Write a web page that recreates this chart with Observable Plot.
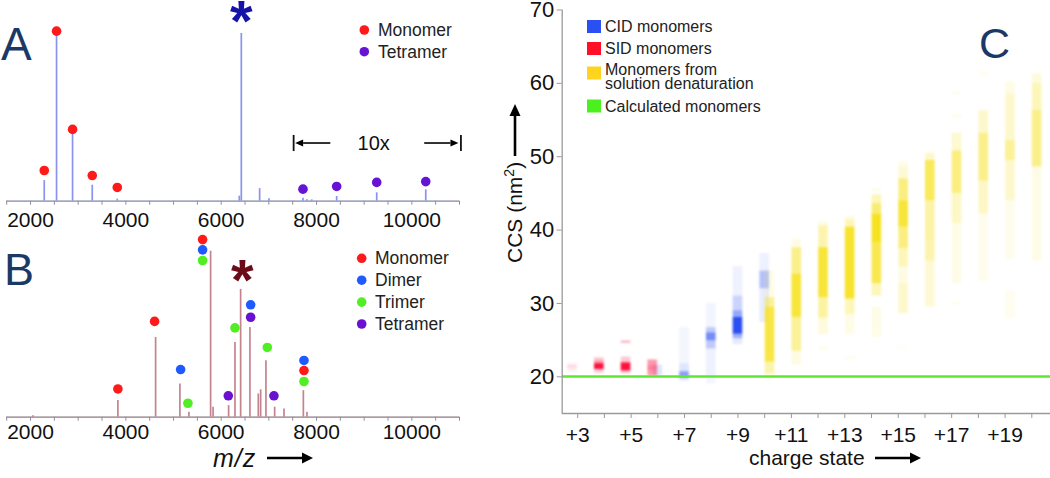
<!DOCTYPE html>
<html><head><meta charset="utf-8">
<script src="https://cdn.jsdelivr.net/npm/d3@7"></script>
<script src="https://cdn.jsdelivr.net/npm/@observablehq/plot@0.6"></script>
<style>
html,body{margin:0;padding:0;background:#fff;}
#wrap{position:relative;width:1050px;height:478px;overflow:hidden;}
#wrap > svg{position:absolute;}
</style></head><body><div id="wrap"></div>
<script>
const FONT = "'Liberation Sans', Arial, Helvetica, sans-serif";

// ---------------- Panel A : CID spectrum ----------------
const aPeakMz  = [2288, 2546, 2882, 3295, 3820, 6380, 6422, 6807, 7002, 7716, 7800, 7900, 8423, 9263, 10292];
const aPeakInt = [12.3, 100, 40, 9.5, 1.2, 3, 100, 7.5, 1.5, 1.8, 0.8, 0.8, 2.8, 5, 6.8];
const aMonomerMz  = [2288, 2546, 2882, 3295, 3820];
const aMonomerY   = [18.3, 101.4, 42.8, 15.3, 8.2];
const aTetramerMz = [7716, 8423, 9263, 10292];
const aTetramerY  = [7.2, 8.8, 11.2, 11.7];
const aStar = [{mz: 6422, y: 100}];
const aZoom = {from: 7520, to: 11030, textAt: 9200, arrowL: 8300, arrowR: 10270, y: 34.4, barLo: 29.6, barHi: 39.2};
const aLegendNames  = ["Monomer", "Tetramer"];
const aLegendColors = ["#ff1a1a", "#6414d2"];

// ---------------- Panel B : SID spectrum ----------------
const bPeakMz  = [2050, 3833, 4624, 5134, 5323, 5778, 5830, 6156, 6289, 6408, 6603, 6779, 6828, 6939, 7122, 7318, 7724, 7800];
const bPeakInt = [0.8, 10, 48, 20, 3, 100, 6, 7, 45, 77, 54, 14, 16.5, 34, 6, 5, 16, 3];
const bMonomerMz  = [3833, 4603, 5610, 7737];
const bMonomerY   = [17, 57.7, 107, 28.1];
const bDimerMz    = [5149, 5610, 6618, 7737];
const bDimerY     = [28.7, 100.8, 67.7, 34.2];
const bTrimerMz   = [5302, 5610, 6289, 6968, 7737];
const bTrimerY    = [8.4, 94.4, 53.8, 42, 21.5];
const bTetramerMz = [6149, 6618, 7107];
const bTetramerY  = [12.9, 60.2, 12.9];
const bStar = [{mz: 6444, y: 77}];
const bLegendNames  = ["Monomer", "Dimer", "Trimer", "Tetramer"];
const bLegendColors = ["#ff1a1a", "#1f5aff", "#50ee22", "#6a10d0"];

// ---------------- Panel C : CCS vs charge state ----------------
// [charge, CCS low, CCS high, relative intensity]
const cidBands = [
  [6, 20.1, 21.6, 0.15],
  [7, 21.8, 26.7, 0.05], [7, 20.7, 21.8, 0.15], [7, 19.8, 20.7, 0.55], [7, 19.4, 19.8, 0.12],
  [8, 26.7, 30.0, 0.06], [8, 26.0, 26.7, 0.3], [8, 24.9, 26.0, 0.65], [8, 23.8, 24.9, 0.3], [8, 20.0, 23.8, 0.08], [8, 19.0, 20.0, 0.05],
  [9, 31.0, 35.0, 0.08], [9, 29.0, 31.0, 0.25], [9, 28.1, 29.0, 0.5], [9, 25.8, 28.1, 1.0], [9, 25.2, 25.8, 0.45], [9, 24.4, 25.2, 0.12],
  [10, 34.4, 36.8, 0.08], [10, 32.0, 34.4, 0.35], [10, 27.4, 32.0, 0.1]
];
const sidBands = [
  [3, 20.6, 21.8, 0.07], [3, 21.2, 21.5, 0.12],
  [4, 20.5, 22.6, 0.22], [4, 21.0, 21.8, 0.95], [4, 21.8, 22.2, 0.25],
  [5, 20.4, 22.7, 0.22], [5, 20.8, 21.9, 0.95], [5, 24.6, 24.85, 0.4],
  [6, 20.1, 22.3, 0.42], [6, 20.8, 21.5, 0.15]
];
const solBands = [
  [10, 30.8, 34.5, 0.1], [10, 29.5, 30.8, 0.45], [10, 22.0, 29.5, 0.8], [10, 20.4, 22.0, 0.35], [10, 19.6, 20.4, 0.1],
  [11, 37.6, 38.8, 0.1], [11, 34.0, 37.6, 0.5], [11, 28.1, 34.0, 0.85], [11, 23.5, 28.1, 0.45], [11, 21.6, 23.5, 0.12],
  [12, 40.6, 41.2, 0.1], [12, 37.6, 40.6, 0.35], [12, 30.8, 37.6, 0.85], [12, 28.0, 30.8, 0.4], [12, 25.8, 28.0, 0.15], [12, 23.6, 24.0, 0.08],
  [13, 41.4, 41.9, 0.1], [13, 40.4, 41.4, 0.3], [13, 30.6, 40.4, 0.9], [13, 28.5, 30.6, 0.3], [13, 25.8, 28.5, 0.1], [13, 22.4, 22.8, 0.08],
  [14, 45.2, 45.6, 0.1], [14, 43.6, 44.8, 0.3], [14, 42.2, 43.6, 0.6], [14, 38.3, 42.2, 0.95], [14, 32.7, 38.3, 0.75], [14, 31.0, 32.7, 0.3], [14, 25.4, 29.5, 0.1],
  [15, 48.6, 49.3, 0.1], [15, 47.0, 48.6, 0.18], [15, 44.0, 47.0, 0.55], [15, 40.4, 44.0, 0.85], [15, 37.5, 40.4, 0.55], [15, 35.0, 37.5, 0.3], [15, 32.7, 35.0, 0.12], [15, 28.6, 32.7, 0.22], [15, 23.8, 24.2, 0.06],
  [16, 49.5, 50.5, 0.22], [16, 44.0, 49.5, 0.7], [16, 38.6, 44.0, 0.38], [16, 35.8, 38.6, 0.35], [16, 29.5, 35.8, 0.18],
  [17, 58.4, 58.9, 0.06], [17, 55.2, 55.7, 0.08], [17, 50.8, 53.2, 0.2], [17, 45.0, 50.8, 0.55], [17, 40.9, 45.0, 0.25], [17, 32.7, 40.9, 0.1], [17, 29.8, 30.2, 0.08],
  [18, 61.0, 61.6, 0.06], [18, 53.2, 56.3, 0.22], [18, 46.7, 53.2, 0.5], [18, 42.2, 46.7, 0.25], [18, 33.0, 42.2, 0.08],
  [19, 58.6, 60.2, 0.1], [19, 52.2, 58.6, 0.22], [19, 49.5, 52.2, 0.45], [19, 44.0, 49.5, 0.22], [19, 36.0, 44.0, 0.08], [19, 28.0, 31.7, 0.07],
  [20, 60.0, 61.3, 0.15], [20, 56.3, 60.0, 0.3], [20, 48.6, 56.3, 0.5], [20, 35.8, 48.6, 0.1]
];
const calcCCS = 20.05;
const cChargeTicks = d3.range(3, 21);
const cCcsTicks = [20, 30, 40, 50, 60, 70];
const cLegendNames  = [["CID monomers"], ["SID monomers"], ["Monomers from", "solution denaturation"], ["Calculated monomers"]];
const cLegendColors = ["#2a4ff2", "#ff1028", "#ffd41e", "#4cf01e"];

// ================= drawing =================
const wrap = document.getElementById("wrap");
const mzTicks = d3.range(1500, 11001, 500);
const mzFormat = d => d % 2000 === 0 ? String(d) : "";
const rows = (xs, ys) => xs.map((x, i) => ({mz: x, y: ys[i]}));

function spectrum({top, height, mT, mB, peaksMz, peaksInt, color, baseColor, dots, star, starColor, starDy, extra, labelPad}) {
  const p = Plot.plot({
    width: 480, height,
    marginLeft: 6.2, marginRight: 21, marginTop: mT, marginBottom: mB,
    x: {domain: [1500, 11000], label: null},
    y: {domain: [0, 100], axis: null, label: null},
    style: {fontFamily: FONT, fontSize: "21px", color: "#111", background: "transparent", overflow: "visible"},
    marks: [
      Plot.ruleY([0], {stroke: "#8d8d9a", strokeWidth: 1.3}),
      Plot.axisX({ticks: mzTicks, tickFormat: mzFormat, tickSize: 4, tickPadding: labelPad, stroke: "#8d8d9a", fontSize: 21, fill: "#111"}),
      Plot.ruleY([0], {stroke: baseColor, strokeWidth: 1, strokeOpacity: 0.7}),
      Plot.ruleX(peaksMz.map((m, i) => ({mz: m, h: peaksInt[i]})), {x: "mz", y1: 0, y2: "h", stroke: color, strokeWidth: 1.7}),
      ...dots.map(([xs, ys, c]) => Plot.dot(rows(xs, ys), {x: "mz", y: "y", r: 4.8, fill: c, stroke: null})),
      Plot.text(star, {x: "mz", y: "y", text: () => "*", fontSize: 58, fontWeight: "bold", fill: starColor, dy: starDy}),
      ...(extra || [])
    ]
  });
  p.style.left = "0px"; p.style.top = top + "px";
  wrap.appendChild(p);
  return p;
}

// Panel A (y(0)=200.7, y(100)=33)
const plotA = spectrum({
  top: 0, height: 235, mT: 33, mB: 34.3, labelPad: 6.5,
  peaksMz: aPeakMz, peaksInt: aPeakInt, color: "#8a94ee", baseColor: "#9aa2e6",
  dots: [[aMonomerMz, aMonomerY, aLegendColors[0]], [aTetramerMz, aTetramerY, aLegendColors[1]]],
  star: aStar, starColor: "#1414a8", starDy: -11,
  extra: [
    Plot.ruleX([aZoom.from, aZoom.to], {y1: aZoom.barLo, y2: aZoom.barHi, stroke: "#111", strokeWidth: 1.8}),
    Plot.text([{x: aZoom.textAt, y: aZoom.y}], {x: "x", y: "y", text: () => "10x", fontSize: 20, fill: "#111"})
  ]
});

// Panel B (y(0)=416.7, y(100)=250.7)
spectrum({
  top: 225, height: 253, mT: 25.7, mB: 61.3, labelPad: 3,
  peaksMz: bPeakMz, peaksInt: bPeakInt, color: "#c4848f", baseColor: "#b98a92",
  dots: [[bMonomerMz, bMonomerY, bLegendColors[0]], [bDimerMz, bDimerY, bLegendColors[1]],
         [bTrimerMz, bTrimerY, bLegendColors[2]], [bTetramerMz, bTetramerY, bLegendColors[3]]],
  star: bStar, starColor: "#6b0c18", starDy: -8
});

// Panel C
const band = (arr, off) => arr.map(([z, lo, hi, a]) => ({z, x1: z + off - 0.18, x2: z + off + 0.18, lo, hi, a}));
const cPlot = Plot.plot({
  width: 570, height: 478,
  marginLeft: 81.7, marginRight: 0, marginTop: 9.5, marginBottom: 65,
  x: {domain: [2.42, 20.7], label: null},
  y: {domain: [15, 70], label: null},
  opacity: {domain: [0, 1], range: [0, 1]},
  style: {fontFamily: FONT, fontSize: "21px", color: "#111", background: "transparent", overflow: "visible"},
  marks: [
    Plot.rect(band(cidBands, 0), {x1: "x1", x2: "x2", y1: "lo", y2: "hi", fill: cLegendColors[0], fillOpacity: "a"}),
    Plot.rect(band(sidBands, -0.19), {x1: "x1", x2: "x2", y1: "lo", y2: "hi", fill: "#fc0a36", fillOpacity: "a"}),
    Plot.rect(band(solBands, 0.2), {x1: "x1", x2: "x2", y1: "lo", y2: "hi", fill: "#f7e016", fillOpacity: "a"}),
    Plot.ruleY([calcCCS], {stroke: "#5ce830", strokeWidth: 2.6}),
    Plot.ruleX([2.42], {stroke: "#9a9a9a", strokeWidth: 1.3}),
    Plot.ruleY([15], {stroke: "#9a9a9a", strokeWidth: 1.3}),
    Plot.axisY({ticks: cCcsTicks, tickSize: 5, tickPadding: 3, stroke: "#9a9a9a", fontSize: 22, fill: "#111"}),
    Plot.axisX({ticks: cChargeTicks, tickFormat: d => d % 2 ? "+" + d : "", tickSize: 5, tickPadding: 8.5, stroke: "#9a9a9a", fontSize: 21, fill: "#111"})
  ]
});
cPlot.style.left = "480px"; cPlot.style.top = "0px";
cPlot.querySelectorAll('g[aria-label="rect"]').forEach(g => g.setAttribute("style", "filter: blur(1px)"));
wrap.appendChild(cPlot);

// ---------- overlay: panel letters, legends, axis titles ----------
const ov = d3.select(wrap).append("svg")
  .attr("width", 1050).attr("height", 478)
  .style("left", "0px").style("top", "0px")
  .style("font-family", FONT);

function arrow(x1, y1, x2, y2, w, hl, hw) {
  const ang = Math.atan2(y2 - y1, x2 - x1);
  const bx = x2 - hl * Math.cos(ang), by = y2 - hl * Math.sin(ang);
  ov.append("line").attr("x1", x1).attr("y1", y1).attr("x2", bx).attr("y2", by)
    .attr("stroke", "#000").attr("stroke-width", w);
  const px = -Math.sin(ang) * hw / 2, py = Math.cos(ang) * hw / 2;
  ov.append("path").attr("d", `M${x2},${y2}L${bx + px},${by + py}L${bx - px},${by - py}Z`).attr("fill", "#000");
}

// "10x" arrows in panel A, positioned with panel A's scales
{
  const sx = plotA.scale("x"), sy = plotA.scale("y");
  const y = sy.apply(aZoom.y);
  arrow(sx.apply(aZoom.arrowL), y, sx.apply(aZoom.from) + 2, y, 1.6, 8, 7);
  arrow(sx.apply(aZoom.arrowR), y, sx.apply(aZoom.to) - 2, y, 1.6, 8, 7);
}

// Panel letters
const letter = (t, x, y, fs) => ov.append("text").attr("x", x).attr("y", y).attr("font-size", fs)
  .attr("fill", "#1b3966").text(t);
letter("A", 1, 60, 46);
letter("B", 4, 285, 45);
letter("C", 979, 58, 43);

// Legends A and B
function dotLegend(names, colors, cx, tx, y0, step) {
  names.forEach((n, i) => {
    const y = y0 + i * step;
    ov.append("circle").attr("cx", cx).attr("cy", y).attr("r", 4.8).attr("fill", colors[i]);
    ov.append("text").attr("x", tx).attr("y", y).attr("dy", "0.35em").attr("font-size", 17.5)
      .attr("fill", "#222").text(n);
  });
}
dotLegend(aLegendNames, aLegendColors, 364.3, 378, 30, 21.7);
dotLegend(bLegendNames, bLegendColors, 361.7, 375, 258.3, 21.9);

// Legend C
const cRows = [26.5, 48.5, 73, 106];
cLegendNames.forEach((lines, i) => {
  const y = cRows[i];
  ov.append("rect").attr("x", 587).attr("y", y - 6.5).attr("width", 14).attr("height", 13).attr("fill", cLegendColors[i]);
  const t = ov.append("text").attr("font-size", 16).attr("fill", "#222");
  lines.forEach((ln, j) => {
    t.append("tspan").attr("x", 605).attr("y", lines.length > 1 ? 69.5 + j * 14 : y)
      .attr("dy", "0.35em").text(ln);
  });
});

// Axis titles
ov.append("text").attr("x", 213).attr("y", 458).attr("dy", "0.35em").attr("font-size", 25)
  .attr("font-style", "italic").attr("letter-spacing", "1").attr("fill", "#111").text("m/z");
arrow(267, 458, 313, 458, 2.4, 11, 11);

ov.append("text").attr("x", 749).attr("y", 458).attr("dy", "0.35em").attr("font-size", 21)
  .attr("fill", "#111").text("charge state");
arrow(875, 458, 921, 458, 2.6, 11, 11);

const yl = ov.append("text").attr("transform", "translate(522,263) rotate(-90)")
  .attr("font-size", 21).attr("fill", "#111");
yl.append("tspan").text("CCS (nm");
yl.append("tspan").attr("font-size", 14).attr("dy", -8).text("2");
yl.append("tspan").attr("dy", 8).text(")");
arrow(515, 156, 515, 104, 2.6, 12, 11);
</script></body></html>
